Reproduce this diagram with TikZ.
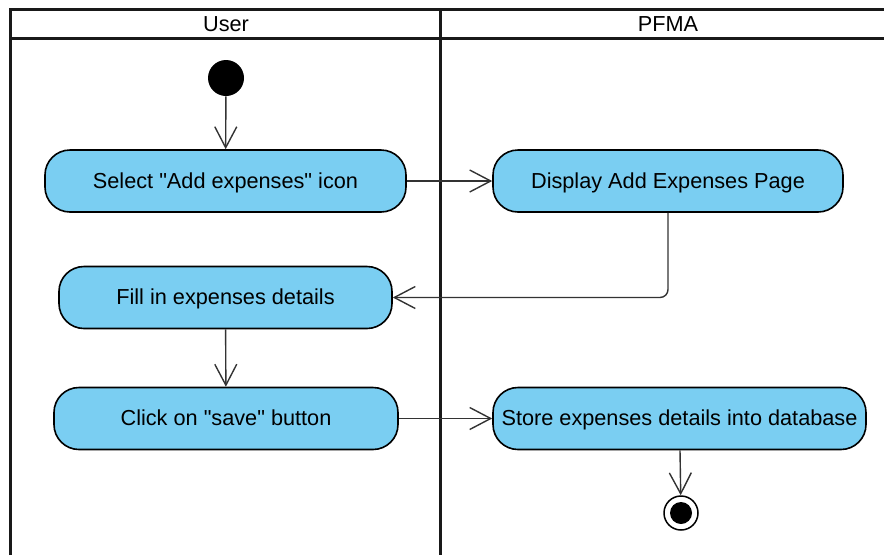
\documentclass[tikz,border=0pt]{standalone}
\usepackage{fontspec}
\setmainfont{Liberation Sans}
\usepackage{tikz}
\usetikzlibrary{arrows.meta}

\begin{document}
\begin{tikzpicture}[
  x=1pt,y=-1pt,
  >={Straight Barb[length=21pt,width=22pt]},semithick,
  act/.style={draw=black,line width=1.6pt,fill=actblue,rounded corners=25pt,minimum height=62pt,inner sep=0pt,text depth=1pt,font=\fontsize{21.7}{25}\selectfont},
  flow/.style={->,draw=black!80,line width=1.4pt},
  lane/.style={line width=3pt,draw=black!90},
  head/.style={font=\fontsize{21.7}{25}\selectfont}]
  \definecolor{actblue}{RGB}{122,206,242}
  \useasboundingbox (0,0) rectangle (884,555);

  % swimlanes
  \draw[lane] (10,555) -- (10,9) -- (884,9);
  \draw[lane] (10,38) -- (884,38);
  \draw[lane] (440,9) -- (440,555);
  \node[head] (user) at (226,24) {User};
  \node[head] (pfma) at (668,24) {PFMA};

  % activities
  \node[circle,fill=black,minimum size=36pt,inner sep=0pt] (start) at (226,78) {};
  \node[act,minimum width=361pt] (select) at (225.5,181) {Select \textquotedbl Add expenses\textquotedbl\ icon};
  \node[act,minimum width=350pt] (display) at (668,181) {Display Add Expenses Page};
  \node[act,minimum width=333pt] (fill) at (225.5,297.5) {Fill in expenses details};
  \node[act,minimum width=344pt] (click) at (226,418.5) {Click on \textquotedbl save\textquotedbl\ button};
  \node[act,minimum width=373pt] (store) at (679.5,418.5) {Store expenses details into database};
  \node[circle,draw=black,line width=1.5pt,minimum size=34pt,inner sep=0pt] (stop) at (681,513) {};
  \node[circle,fill=black,minimum size=22pt,inner sep=0pt] at (stop) {};

  \path
    (start) edge[flow] (select)
    (select) edge[flow] (display)
    (fill) edge[flow] (click)
    (click) edge[flow] (store)
    (store) edge[flow] (stop);
  \draw[flow,rounded corners=8pt] (display.south) |- (fill.east);

\end{tikzpicture}
\end{document}
